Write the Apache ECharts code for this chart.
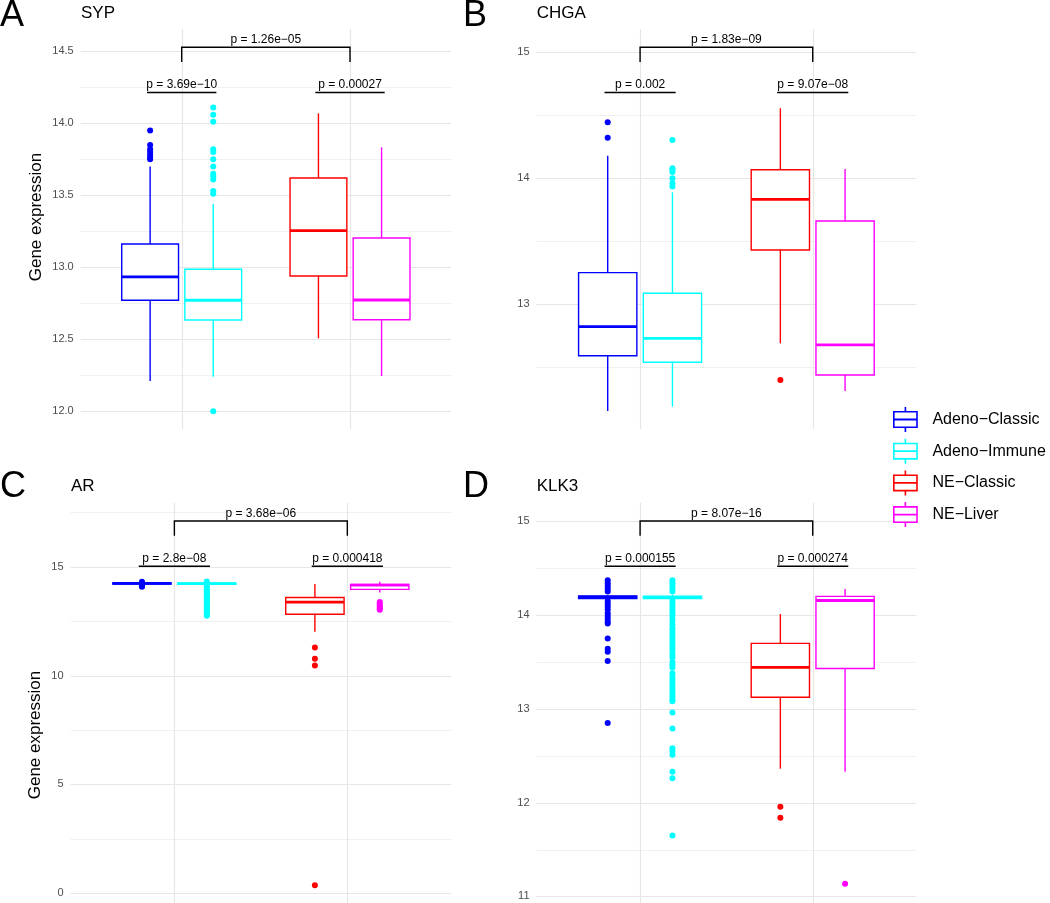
<!DOCTYPE html>
<html><head><meta charset="utf-8">
<script src="https://cdn.jsdelivr.net/npm/echarts@6/dist/echarts.min.js"></script>
<style>html,body{margin:0;padding:0;background:#fff}#c{width:1050px;height:903px}</style>
</head><body><div id="c"></div>
<script>
// ---------- DATA ----------
const groups = ['Adeno−Classic', 'Adeno−Immune', 'NE−Classic', 'NE−Liver'];
const groupColors = ['#0000FF', '#00FFFF', '#FF0000', '#FF00FF'];
const categories = [1, 2]; // Adeno, NE positions on the discrete axis

// each box: [lower whisker, Q1, median, Q3, upper whisker]
const sypBoxes = [
  [12.21, 12.771, 12.933, 13.162, 13.70],
  [12.24, 12.634, 12.771, 12.986, 13.44],
  [12.507, 12.94, 13.255, 13.62, 14.069],
  [12.245, 12.636, 12.773, 13.203, 13.833]
];
const sypOutliers = [
  [13.95, 13.85, 13.82, 13.80, 13.78, 13.76, 13.75],
  [14.11, 14.06, 14.01, 13.82, 13.80, 13.75, 13.70, 13.65, 13.63, 13.61, 13.53, 13.51, 12.0],
  [],
  []
];
const sypP = ['p = 1.26e−05', 'p = 3.69e−10', 'p = 0.00027'];
const sypTicks = [12.0, 12.5, 13.0, 13.5, 14.0, 14.5];
const sypMinor = [12.25, 12.75, 13.25, 13.75, 14.25];

const chgaBoxes = [
  [12.153, 12.592, 12.822, 13.251, 14.179],
  [12.187, 12.54, 12.73, 13.087, 13.889],
  [12.69, 13.431, 13.833, 14.068, 14.556],
  [12.312, 12.439, 12.677, 13.661, 14.074]
];
const chgaOutliers = [
  [14.444, 14.322],
  [14.304, 14.079, 14.066, 14.05, 14.0, 13.96, 13.934],
  [12.399],
  []
];
const chgaP = ['p = 1.83e−09', 'p = 0.002', 'p = 9.07e−08'];
const chgaTicks = [13, 14, 15];
const chgaMinor = [12.5, 13.5, 14.5];

const arBoxes = [
  [14.15, 14.21, 14.235, 14.255, 14.28],
  [14.15, 14.20, 14.225, 14.25, 14.28],
  [12.01, 12.82, 13.375, 13.59, 14.204],
  [13.82, 13.96, 14.16, 14.19, 14.31]
];
const arOutliers = [
  [14.31, 14.13, 14.11, 14.08],
  [14.32, 14.10, 14.04, 13.98, 13.92, 13.85, 13.78, 13.70, 13.62, 13.55, 13.47, 13.40, 13.32, 13.25, 13.17, 13.10, 13.02, 12.95, 12.87, 12.80, 12.75],
  [11.29, 10.77, 10.46, 0.37],
  [13.38, 13.30, 13.22, 13.15, 13.07, 13.02]
];
const arP = ['p = 3.68e−06', 'p = 2.8e−08', 'p = 0.000418'];
const arTicks = [0, 5, 10, 15];
const arMinor = [2.5, 7.5, 12.5, 17.5];

const klk3Boxes = [
  [14.16, 14.175, 14.19, 14.205, 14.215],
  [14.16, 14.175, 14.188, 14.20, 14.215],
  [12.362, 13.124, 13.443, 13.698, 14.011],
  [12.33, 13.43, 14.155, 14.199, 14.277]
];
const klk3Outliers = [
  [14.37, 14.34, 14.31, 14.28, 14.25, 14.15, 14.12, 14.09, 14.06, 14.02, 13.99, 13.96, 13.93, 13.91, 13.75, 13.64, 13.61, 13.51, 12.85],
  [14.37, 14.34, 14.31, 14.28, 14.25, 14.15, 14.12, 14.09, 14.06, 14.03, 14.00, 13.97, 13.94, 13.90, 13.86, 13.83, 13.80, 13.77, 13.74, 13.71, 13.68, 13.65, 13.62, 13.58, 13.55, 13.50, 13.47, 13.44, 13.38, 13.34, 13.31, 13.28, 13.25, 13.22, 13.19, 13.16, 13.13, 13.10, 13.08, 12.96, 12.79, 12.58, 12.55, 12.51, 12.33, 12.26, 11.65],
  [11.955, 11.84],
  [11.134]
];
const klk3P = ['p = 8.07e−16', 'p = 0.000155', 'p = 0.000274'];
const klk3Ticks = [11, 12, 13, 14, 15];
const klk3Minor = [11.5, 12.5, 13.5, 14.5];

// ---------- LAYOUT / STYLE ----------
const FONT = '"Liberation Sans", Arial, Helvetica, sans-serif';
const DODGE = 0.1875, BOX_W = 0.3375, PAIR_HALF = 0.206;
const panels = [
  {letter: 'A', title: 'SYP', boxes: sypBoxes, outliers: sypOutliers, p: sypP, ticks: sypTicks, minor: sypMinor,
   range: [11.877, 14.655], dec: 1, grid: {left: 80.7, top: 29, width: 370.3, height: 400},
   letterPos: [0, 16], titlePos: [81, 13], ylab: [36, 217]},
  {letter: 'B', title: 'CHGA', boxes: chgaBoxes, outliers: chgaOutliers, p: chgaP, ticks: chgaTicks, minor: chgaMinor,
   range: [12.01, 15.185], dec: 0, grid: {left: 536.5, top: 29, width: 379.8, height: 400},
   letterPos: [463, 16], titlePos: [536.7, 13], ylab: null},
  {letter: 'C', title: 'AR', boxes: arBoxes, outliers: arOutliers, p: arP, ticks: arTicks, minor: arMinor,
   range: [-0.45, 17.945], dec: 0, grid: {left: 70.6, top: 502.7, width: 380.5, height: 400.3},
   letterPos: [0, 487.5], titlePos: [71, 486], ylab: [35, 735]},
  {letter: 'D', title: 'KLK3', boxes: klk3Boxes, outliers: klk3Outliers, p: klk3P, ticks: klk3Ticks, minor: klk3Minor,
   range: [10.93, 15.198], dec: 0, grid: {left: 536.5, top: 502.7, width: 379.8, height: 400.3},
   letterPos: [463, 487], titlePos: [536.7, 486], ylab: null}
];
function groupX(g) { return categories[g < 2 ? 0 : 1] + (g % 2 === 0 ? -DODGE : DODGE); }

function gridRender(panel) {
  return function (params, api) {
    const cs = params.coordSys;
    const ch = [];
    panel.minor.forEach(function (v) {
      const y = Math.round(api.coord([1, v])[1]) + 0.5;
      ch.push({type: 'line', shape: {x1: cs.x, y1: y, x2: cs.x + cs.width, y2: y}, style: {stroke: '#f0f0f0', lineWidth: 1}});
    });
    panel.ticks.forEach(function (v) {
      const y = Math.round(api.coord([1, v])[1]) + 0.5;
      ch.push({type: 'line', shape: {x1: cs.x, y1: y, x2: cs.x + cs.width, y2: y}, style: {stroke: '#e6e6e6', lineWidth: 1.2}});
    });
    categories.forEach(function (c) {
      const x = Math.round(api.coord([c, panel.range[0]])[0]) + 0.5;
      ch.push({type: 'line', shape: {x1: x, y1: cs.y, x2: x, y2: cs.y + cs.height}, style: {stroke: '#e6e6e6', lineWidth: 1.2}});
    });
    return {type: 'group', children: ch};
  };
}
function boxRender(color) {
  return function (params, api) {
    const x = api.value(0);
    const c = function (v) { return api.coord([x, v]); };
    const cx = c(api.value(3))[0];
    const w = api.size([BOX_W, 0])[0];
    const yLo = c(api.value(1))[1], yQ1 = c(api.value(2))[1], yMd = c(api.value(3))[1], yQ3 = c(api.value(4))[1], yHi = c(api.value(5))[1];
    return {type: 'group', children: [
      {type: 'line', shape: {x1: cx, y1: yHi, x2: cx, y2: yQ3}, style: {stroke: color, lineWidth: 1.4}},
      {type: 'line', shape: {x1: cx, y1: yQ1, x2: cx, y2: yLo}, style: {stroke: color, lineWidth: 1.4}},
      {type: 'rect', shape: {x: cx - w / 2, y: yQ3, width: w, height: yQ1 - yQ3}, style: {fill: '#ffffff', stroke: color, lineWidth: 1.4}},
      {type: 'line', shape: {x1: cx - w / 2, y1: yMd, x2: cx + w / 2, y2: yMd}, style: {stroke: color, lineWidth: 2.8}}
    ]};
  };
}
function bracketRender(panel) {
  return function (params, api) {
    const cs = params.coordSys, top = cs.y;
    const x1 = api.coord([categories[0], 0])[0], x2 = api.coord([categories[1], 0])[0];
    const xm = (x1 + x2) / 2;
    const ch = [
      {type: 'polyline', shape: {points: [[x1, top + 33], [x1, top + 18.3], [x2, top + 18.3], [x2, top + 33]]}, style: {stroke: '#000', lineWidth: 1.4, fill: null}},
      {type: 'text', style: {text: panel.p[0], x: xm, y: top + 11, align: 'center', verticalAlign: 'middle', fill: '#000', fontSize: 12, fontFamily: FONT}}
    ];
    categories.forEach(function (cat, i) {
      const a = api.coord([cat - PAIR_HALF, 0])[0], b = api.coord([cat + PAIR_HALF, 0])[0], m = api.coord([cat, 0])[0];
      ch.push({type: 'line', shape: {x1: a, y1: top + 63.5, x2: b, y2: top + 63.5}, style: {stroke: '#000', lineWidth: 1.4}});
      ch.push({type: 'text', style: {text: panel.p[i + 1], x: m, y: top + 56, align: 'center', verticalAlign: 'middle', fill: '#000', fontSize: 12, fontFamily: FONT}});
    });
    return {type: 'group', children: ch};
  };
}

const grids = [], xAxes = [], yAxes = [], series = [], graphics = [];
panels.forEach(function (p, i) {
  grids.push(Object.assign({containLabel: false}, p.grid));
  xAxes.push({gridIndex: i, type: 'value', min: 0.4, max: 2.6, show: false});
  yAxes.push({gridIndex: i, type: 'value', min: p.range[0], max: p.range[1],
    axisLine: {show: false}, axisTick: {show: false}, splitLine: {show: false},
    axisLabel: {customValues: p.ticks, margin: 7, color: '#4d4d4d', fontSize: 11, fontFamily: FONT,
      formatter: (function (d) { return function (v) { return Number(v).toFixed(d); }; })(p.dec)}});
  series.push({type: 'custom', xAxisIndex: i, yAxisIndex: i, z: 1, silent: true, renderItem: gridRender(p), data: [[1.5, p.range[0]]]});
  p.boxes.forEach(function (b, g) {
    series.push({type: 'custom', name: groups[g], xAxisIndex: i, yAxisIndex: i, z: 2, silent: true,
      itemStyle: {color: groupColors[g]}, renderItem: boxRender(groupColors[g]),
      data: [[groupX(g)].concat(b)]});
    series.push({type: 'scatter', name: groups[g], xAxisIndex: i, yAxisIndex: i, z: 3, silent: true,
      symbol: 'circle', symbolSize: 6, itemStyle: {color: groupColors[g], opacity: 1},
      data: p.outliers[g].map(function (v) { return [groupX(g), v]; })});
  });
  series.push({type: 'custom', xAxisIndex: i, yAxisIndex: i, z: 4, silent: true, renderItem: bracketRender(p), data: [[1.5, p.range[0]]]});
  graphics.push({type: 'text', x: p.letterPos[0], y: p.letterPos[1], style: {text: p.letter, fontSize: 36, fontFamily: FONT, fill: '#000', align: 'left', verticalAlign: 'middle', textAlign: 'left', textVerticalAlign: 'middle'}});
  graphics.push({type: 'text', x: p.titlePos[0], y: p.titlePos[1], style: {text: p.title, fontSize: 17, fontFamily: FONT, fill: '#000', align: 'left', verticalAlign: 'middle', textAlign: 'left', textVerticalAlign: 'middle'}});
  if (p.ylab) {
    graphics.push({type: 'text', x: p.ylab[0], y: p.ylab[1], rotation: Math.PI / 2, style: {text: 'Gene expression', fontSize: 17, fontFamily: FONT, fill: '#000', align: 'center', verticalAlign: 'middle', textAlign: 'center', textVerticalAlign: 'middle'}});
  }
});

const legendIcon = 'path://M12.2 0h1.6v4h-1.6z M0.6 4h24.8v1.6h-24.8z M0.6 19.4h24.8v1.6h-24.8z M0.6 4h1.6v17h-1.6z M23.8 4h1.6v17h-1.6z M0.6 11.6h24.8v1.8h-24.8z M12.2 21h1.6v4h-1.6z';

const chart = echarts.init(document.getElementById('c'), null, {renderer: 'canvas'});
chart.setOption({
  backgroundColor: '#ffffff',
  animation: false,
  grid: grids, xAxis: xAxes, yAxis: yAxes, series: series,
  legend: {data: groups, orient: 'vertical', left: 893, top: 407, padding: 0, itemWidth: 26, itemHeight: 25, itemGap: 6.7,
    icon: legendIcon, selectedMode: false,
    textStyle: {fontSize: 16, color: '#000', fontFamily: FONT, padding: [0, 0, 0, 9]}},
  graphic: graphics
});
</script>
</body></html>
